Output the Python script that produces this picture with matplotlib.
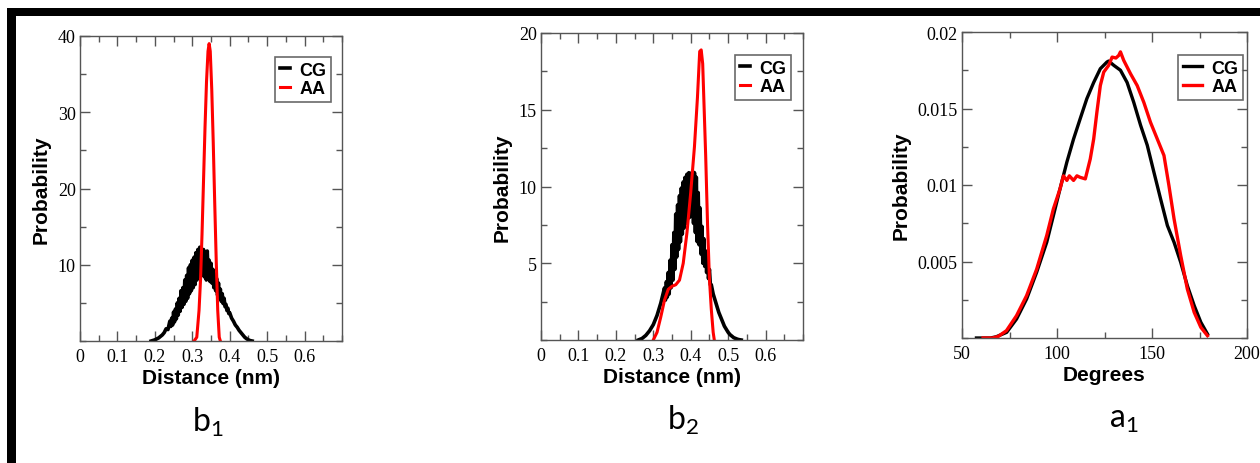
import matplotlib
matplotlib.use("Agg")
import matplotlib.pyplot as plt
from matplotlib.patches import Rectangle
from matplotlib.ticker import MultipleLocator

plt.rcParams['mathtext.fontset'] = 'custom'
plt.rcParams['mathtext.rm'] = 'Lato'
plt.rcParams['mathtext.it'] = 'Lato:italic'

# ---- panel b1: bond distance ----
b1_cg_x = [0.19, 0.20, 0.21, 0.22, 0.225, 0.23, 0.235,
           0.2400, 0.2425, 0.2450, 0.2475, 0.2500, 0.2525, 0.2550, 0.2575,
           0.2600, 0.2625, 0.2650, 0.2675, 0.2700, 0.2725, 0.2750, 0.2775,
           0.2800, 0.2825, 0.2850, 0.2875, 0.2900, 0.2925, 0.2950, 0.2975,
           0.3000, 0.3025, 0.3050, 0.3075, 0.3100, 0.3125, 0.3150, 0.3175,
           0.3200, 0.3225, 0.3250, 0.3275, 0.3300, 0.3325, 0.3350, 0.3375,
           0.3400, 0.3425, 0.3450, 0.3475, 0.3500, 0.3525, 0.3550, 0.3575,
           0.3600, 0.3625, 0.3650, 0.3675, 0.3700, 0.3725, 0.3750, 0.3775,
           0.3800, 0.3825, 0.3850, 0.3875, 0.3900, 0.3925, 0.3950, 0.3975,
           0.4000, 0.405, 0.41, 0.415, 0.42, 0.425, 0.43, 0.435,
           0.44, 0.445, 0.45, 0.455, 0.46]
b1_cg_y = [0, 0.15, 0.4, 0.8, 1.1, 1.6, 1.5,
           2.6, 1.9, 3.0, 2.1, 3.8, 2.5, 4.2, 2.9,
           5.0, 3.4, 5.6, 3.9, 6.6, 4.4, 7.0, 4.8,
           8.0, 5.2, 8.6, 5.6, 9.6, 6.2, 10.0, 6.6,
           10.6, 7.0, 11.0, 7.4, 11.6, 8.0, 12.0, 8.4,
           12.3, 9.2, 11.4, 8.6, 12.0, 8.4, 11.2, 8.0,
           11.8, 8.2, 10.6, 7.8, 10.2, 7.6, 9.4, 7.0,
           8.8, 6.6, 8.2, 6.0, 7.6, 5.6, 6.8, 5.2,
           6.2, 4.9, 5.6, 4.5, 4.8, 4.0, 4.3, 3.6,
           3.7, 3.0, 2.6, 2.1, 1.8, 1.4, 1.1, 0.8,
           0.5, 0.3, 0.15, 0.05, 0]
b1_aa_x = [0.305, 0.312, 0.318, 0.322, 0.326, 0.330, 0.334, 0.338, 0.342,
           0.345, 0.348, 0.352, 0.356, 0.360, 0.364, 0.368, 0.372, 0.375]
b1_aa_y = [0, 0.5, 4, 8, 14, 21, 28, 34, 38,
           39, 38, 33, 26, 18, 10.5, 4, 0.5, 0]

# ---- panel b2: bond distance ----
b2_cg_x = [0.26, 0.265, 0.27, 0.275, 0.28, 0.285, 0.29, 0.295, 0.30, 0.305,
           0.31, 0.315, 0.32, 0.325,
           0.3300, 0.3325, 0.3350, 0.3375, 0.3400, 0.3425, 0.3450, 0.3475,
           0.3500, 0.3525, 0.3550, 0.3575, 0.3600, 0.3625, 0.3650, 0.3675,
           0.3700, 0.3725, 0.3750, 0.3775, 0.3800, 0.3825, 0.3850, 0.3875,
           0.3900, 0.3925, 0.3950, 0.3975, 0.4000, 0.4025, 0.4050, 0.4075,
           0.4100, 0.4125, 0.4150, 0.4175, 0.4200, 0.4225, 0.4250, 0.4275,
           0.4300, 0.4325, 0.4350, 0.4375, 0.4400, 0.4425, 0.4450, 0.4475,
           0.4500, 0.4525, 0.455, 0.46, 0.465, 0.47, 0.475, 0.48, 0.485,
           0.49, 0.495, 0.50, 0.505, 0.51, 0.515, 0.52, 0.525, 0.53, 0.535]
b2_cg_y = [0, 0.05, 0.1, 0.2, 0.3, 0.45, 0.6, 0.8, 1.0, 1.3,
           1.6, 2.0, 2.4, 2.9,
           3.4, 2.6, 3.8, 2.8, 4.4, 3.0, 5.2, 3.4,
           6.2, 3.9, 7.0, 4.6, 8.2, 5.4, 8.8, 5.9,
           9.4, 6.4, 9.9, 6.9, 10.3, 7.3, 10.6, 7.6,
           10.8, 7.9, 10.9, 8.0, 10.8, 8.1, 11.0, 7.6,
           10.9, 7.0, 10.6, 6.4, 9.6, 6.2, 8.6, 5.6,
           7.4, 5.0, 6.6, 4.8, 5.8, 4.4, 5.3, 4.0,
           4.6, 3.6, 3.6, 3.0, 2.6, 2.2, 1.8, 1.5, 1.2,
           0.9, 0.7, 0.5, 0.35, 0.25, 0.15, 0.1, 0.05, 0.02, 0]
b2_aa_x = [0.300, 0.310, 0.320, 0.330, 0.340, 0.350, 0.360, 0.370, 0.380,
           0.390, 0.400, 0.410, 0.418, 0.424, 0.428, 0.432, 0.436, 0.440,
           0.445, 0.450, 0.455, 0.460, 0.463]
b2_aa_y = [0, 0.5, 1.5, 2.6, 3.3, 3.5, 3.6, 3.9, 5.0,
           7.0, 9.6, 12.6, 15.8, 18.8, 18.9, 18.0, 15.0, 12.0,
           7.5, 4.0, 2.0, 0.5, 0]

# ---- panel a1: angle ----
a1_cg_x = [57.6, 65.0, 68.0, 73.5, 78.7, 84.0, 89.3, 94.6, 98.1, 101.6,
           105.2, 108.7, 112.2, 115.7, 119.3, 122.8, 126.3, 127.2, 129.9,
           133.4, 136.9, 140.4, 144.0, 147.5, 151.0, 154.5, 158.1, 161.6,
           165.1, 168.6, 172.2, 175.7, 179.2]
a1_cg_y = [0, 0, 0.00008, 0.00037, 0.00124, 0.00255, 0.0043, 0.00626, 0.0080,
           0.00975, 0.0115, 0.0130, 0.01433, 0.01564, 0.0167, 0.0176, 0.01804,
           0.0181, 0.01782, 0.0175, 0.0167, 0.0154, 0.0139, 0.0126, 0.01084,
           0.0091, 0.00735, 0.00626, 0.00495, 0.00342, 0.00212, 0.00103, 0.00026]
a1_aa_x = [61.1, 66.0, 69.0, 73.4, 78.7, 84.0, 89.3, 94.6, 98.1, 101.6,
           103.4, 105.2, 106.5, 108.7, 110.5, 112.2, 114.9, 117.5, 119.3,
           121.0, 122.8, 124.6, 127.2, 129.0, 131.0, 132.5, 133.4, 135.1,
           138.7, 142.2, 145.7, 149.2, 152.8, 156.3, 158.9, 161.6, 165.1,
           168.6, 172.2, 175.7, 179.2]
a1_aa_y = [0, 0, 0.0001, 0.00048, 0.00146, 0.00277, 0.0045, 0.0067, 0.00844,
           0.00975, 0.0106, 0.0103, 0.0106, 0.0103, 0.0106, 0.0105, 0.0104,
           0.0117, 0.0130, 0.01476, 0.0165, 0.01738, 0.01782, 0.01836, 0.0183,
           0.01847, 0.0187, 0.01815, 0.01727, 0.0165, 0.0154, 0.0141, 0.0130,
           0.01193, 0.00997, 0.00779, 0.00539, 0.0032, 0.00168, 0.0007, 0.00015]

dist_ticks = [0, 0.1, 0.2, 0.3, 0.4, 0.5, 0.6]
dist_labels = ["0", "0.1", "0.2", "0.3", "0.4", "0.5", "0.6"]
b1_yticks = [10, 20, 30, 40]
b1_ylabels = ["10", "20", "30", "40"]
b2_yticks = [5, 10, 15, 20]
b2_ylabels = ["5", "10", "15", "20"]
a1_xticks = [50, 100, 150, 200]
a1_xlabels = ["50", "100", "150", "200"]
a1_yticks = [0.005, 0.01, 0.015, 0.02]
a1_ylabels = ["0.005", "0.01", "0.015", "0.02"]

W, H = 1260, 464
fig = plt.figure(figsize=(W / 100, H / 100), dpi=100)

tick_font = {'family': 'Liberation Serif', 'size': 13}
label_font = {'family': 'Liberation Sans', 'size': 15, 'weight': 'bold'}
spine_col = '#555555'


def make_axes(left, top, right, bottom):
    ax = fig.add_axes([left / W, (H - bottom) / H, (right - left) / W, (bottom - top) / H])
    for s in ax.spines.values():
        s.set_color(spine_col)
        s.set_linewidth(1.0)
    ax.tick_params(which='both', direction='in', top=True, right=True,
                   color=spine_col, width=1.0)
    ax.tick_params(which='major', length=7)
    ax.tick_params(which='minor', length=4)
    ax.tick_params(axis='x', pad=5)
    ax.tick_params(axis='y', pad=3)
    return ax


def style(ax, xt, xl, yt, yl, xlabel, hl, anchor):
    ax.set_xticks(xt, xl, fontdict=tick_font)
    ax.set_yticks(yt, yl, fontdict=tick_font)
    ax.set_xlabel(xlabel, fontdict=label_font, labelpad=2)
    ax.set_ylabel("Probability", fontdict=label_font, labelpad=5)
    leg = ax.legend(loc='upper right', bbox_to_anchor=anchor, borderaxespad=0,
                    fancybox=False, frameon=True, handlelength=hl,
                    handletextpad=0.5, borderpad=0.25, labelspacing=0.1,
                    prop={'family': 'Liberation Sans', 'weight': 'bold', 'size': 13})
    leg.get_frame().set_edgecolor('#444444')
    leg.get_frame().set_linewidth(1.2)


# b1
ax1 = make_axes(80, 37, 342, 342)
ax1.plot(b1_cg_x, b1_cg_y, color='black', lw=2.6, label='CG')
ax1.plot(b1_aa_x, b1_aa_y, color='red', lw=2.2, label='AA')
ax1.set_xlim(0, 0.7)
ax1.set_ylim(0, 40)
ax1.xaxis.set_minor_locator(MultipleLocator(0.05))
ax1.yaxis.set_minor_locator(MultipleLocator(5))
style(ax1, dist_ticks, dist_labels, b1_yticks, b1_ylabels, "Distance (nm)",
      0.6, (1 - 11 / 262, 1 - 21 / 305))

# b2
ax2 = make_axes(541, 34, 803, 341)
ax2.plot(b2_cg_x, b2_cg_y, color='black', lw=2.6, label='CG')
ax2.plot(b2_aa_x, b2_aa_y, color='red', lw=2.2, label='AA')
ax2.set_xlim(0, 0.7)
ax2.set_ylim(0, 20)
ax2.xaxis.set_minor_locator(MultipleLocator(0.05))
ax2.yaxis.set_minor_locator(MultipleLocator(2.5))
style(ax2, dist_ticks, dist_labels, b2_yticks, b2_ylabels, "Distance (nm)",
      0.6, (1 - 12 / 262, 1 - 22 / 307))

# a1
ax3 = make_axes(962, 33, 1247, 339)
ax3.plot(a1_cg_x, a1_cg_y, color='black', lw=2.4, label='CG')
ax3.plot(a1_aa_x, a1_aa_y, color='red', lw=2.4, label='AA')
ax3.set_xlim(50, 200)
ax3.set_ylim(0, 0.02)
ax3.xaxis.set_minor_locator(MultipleLocator(25))
ax3.yaxis.set_minor_locator(MultipleLocator(0.0025))
style(ax3, a1_xticks, a1_xlabels, a1_yticks, a1_ylabels, "Degrees",
      1.1, (1 - 4 / 285, 1 - 23 / 306))

# panel captions
sub_font = {'family': 'Lato', 'size': 23}
fig.text(192 / W, (H - 432) / H, r"b$_\mathrm{1}$", ha='left', va='baseline', fontdict=sub_font)
fig.text(667 / W, (H - 430) / H, r"b$_\mathrm{2}$", ha='left', va='baseline', fontdict=sub_font)
fig.text(1109 / W, (H - 428) / H, r"a$_\mathrm{1}$", ha='left', va='baseline', fontdict=sub_font)

# black frame (top and left edges)
fig.add_artist(Rectangle((7 / W, (H - 17) / H), 1 - 7 / W, 8 / H,
                         transform=fig.transFigure, color='black', lw=0))
fig.add_artist(Rectangle((7 / W, 0), 9 / W, (H - 9) / H,
                         transform=fig.transFigure, color='black', lw=0))

fig.savefig("out.png", dpi=100)
